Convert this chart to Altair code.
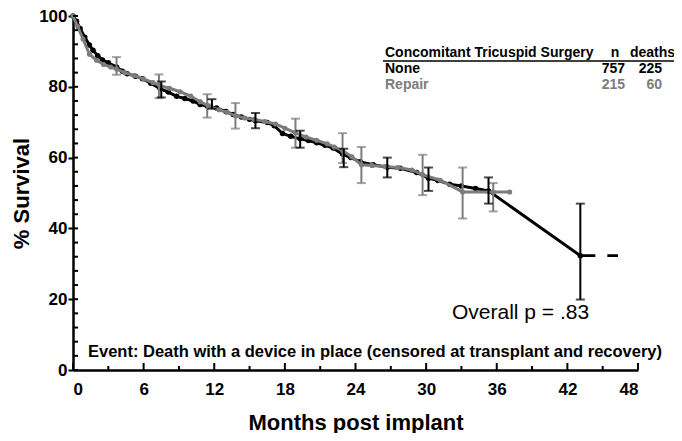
import altair as alt
import pandas as pd

# ---- data ----
none_month = [0, 0.3, 0.6, 1.0, 1.4, 1.7, 2.1, 2.5, 3.0, 3.7, 4.2, 4.6, 5.3, 5.9, 6.6, 7.4, 8.1, 8.8, 9.5,
              10.2, 10.8, 11.4, 12.2, 13.0, 13.6, 14.3, 15.0, 15.5, 16.5, 17.1, 17.8, 18.5, 19.3, 20.0,
              20.7, 21.4, 22.1, 22.9, 23.6, 24.4, 25.5, 26.7, 27.8, 29.2, 30.2, 31.0, 32.0, 33.0, 34.2,
              35.3, 43.1]
none_surv = [100, 98.5, 96.5, 94, 91.8, 90.3, 88.8, 87.6, 86.8, 85.6, 84.4, 83.7, 83.0, 82.3, 81.0, 79.5,
             78.5, 77.3, 76.7, 76.0, 75.0, 74.6, 74.0, 73.0, 72.2, 71.5, 70.8, 70.4, 69.9, 69.0, 66.8,
             66.0, 65.3, 64.8, 64.2, 63.5, 62.7, 61.0, 60.0, 58.8, 58.0, 57.3, 57.0, 55.8, 54.2, 53.5,
             52.5, 52.0, 51.3, 50.6, 32.3]

repair_month = [0, 0.4, 0.85, 1.4, 2.0, 2.6, 3.2, 3.7, 4.4, 5.2, 6.0, 6.8, 7.4, 8.2, 9.1, 10.0, 10.8,
                11.5, 12.4, 13.1, 13.8, 14.6, 15.4, 16.3, 17.2, 18.0, 18.9, 19.8, 20.7, 21.6, 22.2,
                22.9, 23.7, 24.5, 25.4, 26.5, 27.6, 28.8, 29.7, 31.2, 33.1, 35.7, 37.1]
repair_surv = [100, 97, 93.5, 89.2, 87.5, 86.3, 85.6, 85.0, 84.0, 83.2, 82.2, 81.2, 80.3, 79.6, 78.6,
               77.4, 75.8, 74.6, 73.5, 72.8, 71.8, 71.2, 70.8, 70.2, 69.5, 68.3, 67.0, 65.8, 64.9,
               63.9, 63.0, 62.0, 60.2, 58.0, 57.8, 57.5, 57.2, 56.5, 55.2, 53.6, 50.3, 50.3, 50.3]

none_bar_month = [7.5, 11.8, 15.5, 19.3, 23.0, 26.7, 30.2, 35.3, 43.1]
none_bar_lo = [77.0, 73.8, 68.3, 62.8, 57.3, 54.4, 50.6, 47.0, 19.9]
none_bar_hi = [81.5, 76.5, 72.6, 67.6, 62.5, 60.0, 57.2, 54.4, 47.0]

repair_bar_month = [3.7, 7.3, 11.4, 13.8, 18.9, 22.9, 24.5, 29.7, 33.1, 35.7]
repair_bar_lo = [83.4, 76.8, 71.3, 68.2, 62.8, 58.5, 52.8, 49.4, 42.8, 44.8]
repair_bar_hi = [88.4, 83.5, 77.9, 75.4, 71.0, 66.9, 63.0, 60.8, 57.2, 52.8]

tail_month = [43.1, 46.3]
tail_surv = [32.3, 32.3]

groups = ["None", "Repair"]
group_n = [757, 215]
group_deaths = [225, 60]

x_major = [0, 6, 12, 18, 24, 30, 36, 42, 48]
x_minor = [3, 9, 15, 21, 27, 33, 39, 45]
y_major = [0, 20, 40, 60, 80, 100]
y_all = list(range(0, 101, 4))

W, H = 565, 354
BLACK = "#000000"
GRAY = "#7c7c7c"
FONT = "Liberation Sans"

xs = alt.Scale(domain=[0, 48], nice=False, zero=False)
ys = alt.Scale(domain=[0, 100], nice=False)

df_none = pd.DataFrame({"m": none_month, "s": none_surv})
df_rep = pd.DataFrame({"m": repair_month, "s": repair_surv})
df_nb = pd.DataFrame({"m": none_bar_month, "lo": none_bar_lo, "hi": none_bar_hi})
df_rb = pd.DataFrame({"m": repair_bar_month, "lo": repair_bar_lo, "hi": repair_bar_hi})
df_tail = pd.DataFrame({"m": tail_month, "s": tail_surv})

x_axis = alt.Axis(values=x_major, ticks=False, labelFontSize=17, labelFontWeight="bold",
                  labelFont=FONT, labelColor=BLACK, labelPadding=11, domainWidth=2.5,
                  domainColor=BLACK, grid=False, title="Months post implant",
                  titleFont=FONT, titleFontSize=22, titleFontWeight="bold", titleColor=BLACK,
                  titleX=W / 2, titleY=52, titleBaseline="middle", titleAlign="center")
y_axis = alt.Axis(values=y_major, tickSize=5, tickWidth=2, tickColor=BLACK, labelFontSize=17,
                  labelFontWeight="bold", labelFont=FONT, labelColor=BLACK, labelPadding=1,
                  domainWidth=2.5, domainColor=BLACK, grid=False, title="% Survival",
                  titleFont=FONT, titleFontSize=22, titleFontWeight="bold", titleColor=BLACK,
                  titleX=-52, titleY=H / 2, titleAngle=270, titleBaseline="middle",
                  titleAlign="center")

base_line_none = alt.Chart(df_none).mark_line(
    color=BLACK, strokeWidth=3,
    point=alt.OverlayMarkDef(filled=True, size=30, color=BLACK)
).encode(x=alt.X("m:Q", scale=xs, axis=x_axis), y=alt.Y("s:Q", scale=ys, axis=y_axis))

line_rep = alt.Chart(df_rep).mark_line(
    color=GRAY, strokeWidth=3,
    point=alt.OverlayMarkDef(filled=True, size=26, color=GRAY)
).encode(x=alt.X("m:Q", scale=xs), y=alt.Y("s:Q", scale=ys))


def bars(df, color):
    r = alt.Chart(df).mark_rule(color=color, strokeWidth=2).encode(
        x=alt.X("m:Q", scale=xs), y=alt.Y("lo:Q", scale=ys), y2="hi:Q")
    t1 = alt.Chart(df).mark_tick(color=color, orient="horizontal", size=9, thickness=2).encode(
        x=alt.X("m:Q", scale=xs), y=alt.Y("lo:Q", scale=ys))
    t2 = alt.Chart(df).mark_tick(color=color, orient="horizontal", size=9, thickness=2).encode(
        x=alt.X("m:Q", scale=xs), y=alt.Y("hi:Q", scale=ys))
    return [r, t1, t2]


tail = alt.Chart(df_tail).mark_line(color=BLACK, strokeWidth=2.8, strokeDash=[15, 12]).encode(
    x=alt.X("m:Q", scale=xs), y=alt.Y("s:Q", scale=ys))

# inward ticks
xt_major = alt.Chart(pd.DataFrame({"m": x_major})).mark_rule(color=BLACK, strokeWidth=2).encode(
    x=alt.X("m:Q", scale=xs), y=alt.value(H), y2=alt.value(H - 7))
xt_minor = alt.Chart(pd.DataFrame({"m": x_minor})).mark_rule(color=BLACK, strokeWidth=2).encode(
    x=alt.X("m:Q", scale=xs), y=alt.value(H), y2=alt.value(H - 4))
yt = alt.Chart(pd.DataFrame({"v": y_all})).mark_rule(color=BLACK, strokeWidth=2).encode(
    y=alt.Y("v:Q", scale=ys), x=alt.value(0), x2=alt.value(5))


def txt(s, x, y, size=14, weight="bold", color=BLACK, align="left"):
    return alt.Chart(pd.DataFrame({"t": [s]})).mark_text(
        font=FONT, fontSize=size, fontWeight=weight, color=color, align=align, baseline="middle"
    ).encode(text="t:N", x=alt.value(x), y=alt.value(y))


header = [
    txt("Concomitant Tricuspid Surgery", 312, 37),
    txt("n", 542, 37, align="center"),
    txt("deaths", 602, 37, align="right"),
]
underline = alt.Chart(pd.DataFrame({"a": [0]})).mark_rule(color=BLACK, strokeWidth=1.5).encode(
    x=alt.value(310), x2=alt.value(602), y=alt.value(45))

rows = []
for i, (g, n, d) in enumerate(zip(groups, group_n, group_deaths)):
    c = BLACK if i == 0 else GRAY
    yy = 53 + 16 * i
    rows += [txt(g, 312, yy, color=c), txt(str(n), 552, yy, color=c, align="right"),
             txt(str(d), 589, yy, color=c, align="right")]

pval = txt("Overall p = .83", 379, 297, size=21, weight="normal")
event = txt("Event:  Death with a device in place (censored at transplant and recovery)", 15, 336,
            size=16.5)

layers = [base_line_none, line_rep] + bars(df_rb, GRAY) + bars(df_nb, BLACK) + [
    tail, xt_major, xt_minor, yt, underline] + header + rows + [pval, event]

chart = alt.layer(*layers).properties(
    width=W, height=H,
    background="white",
    autosize=alt.AutoSizeParams(type="none"),
    padding={"left": 65, "top": 8, "right": 36, "bottom": 63},
).configure_view(stroke=None)

chart.save("out.html", embed_options={"renderer": "svg", "actions": False})
